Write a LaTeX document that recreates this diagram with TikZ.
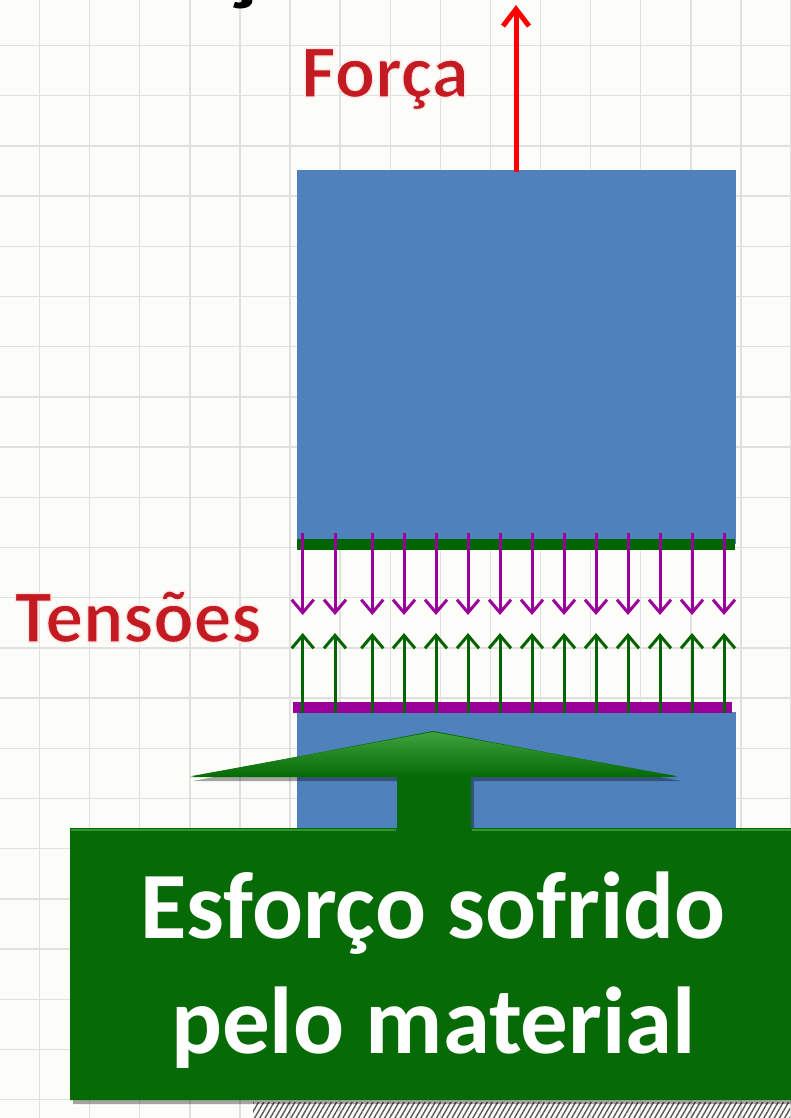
\documentclass[tikz,border=0pt]{standalone}
\usepackage{fontspec}
\setmainfont{Carlito}
\usetikzlibrary{arrows.meta,patterns.meta}
\definecolor{bg}{RGB}{252,253,248}
\definecolor{gridc}{RGB}{224,224,220}
\definecolor{blockblue}{RGB}{79,129,189}
\definecolor{bargreen}{RGB}{0,100,0}
\definecolor{barpurple}{RGB}{153,0,153}
\definecolor{forcered}{RGB}{255,0,0}
\definecolor{wordred}{RGB}{196,26,34}
\definecolor{calloutgreen}{RGB}{6,106,6}
\definecolor{calloutlight}{RGB}{62,162,62}
\newcommand{\outlinedtext}[1]{\special{pdf:literal direct 2 Tr 1.4 w 1 0.9 0.9 RG}#1\special{pdf:literal direct 0 Tr}}
\tikzset{
  gridline/.style={gridc, line width=1.4pt},
  block/.style={fill=blockblue, draw=none},
  stressbar/.style={line width=11pt},
  downarrow/.style={barpurple, line width=3pt, -{Straight Barb[length=13pt,width=22pt]}},
  uparrow/.style={bargreen, line width=3pt, -{Straight Barb[length=13pt,width=22pt]}},
  forcearrow/.style={forcered, line width=5pt, -{Straight Barb[length=17pt,width=26pt]}},
  wordart/.style={font=\fontsize{75}{80}\selectfont\bfseries, text=wordred, anchor=base, inner sep=0pt},
  calloutfont/.style={font=\fontsize{95}{110}\selectfont\bfseries, text=white, anchor=base, inner sep=0pt},
}
\begin{document}
\begin{tikzpicture}[x=1pt,y=-1pt]
  % background and grid
  \fill[bg] (0,0) rectangle (790,1118);
  \useasboundingbox (0,0) rectangle (790,1118);
  \foreach \k in {0,...,15} \draw[gridline] (39.5+50.1*\k,0) -- (39.5+50.1*\k,1118);
  \foreach \k in {0,...,21} \draw[gridline] (0,45.5+50.2*\k) -- (790,45.5+50.2*\k);

  % fragment of the title cut off at the top
  \node[font=\fontsize{110}{110}\selectfont\bfseries, anchor=base, inner sep=0pt] (titlefrag) at (240,-9) {ç};

  % blocks
  \fill[block] (297,170) rectangle (736,544);
  \fill[block] (297,712) rectangle (736,850);

  % force
  \coordinate (forcebase) at (516,172);
  \coordinate (forcetip) at (516,5);
  \draw[forcearrow] (forcebase) -- (forcetip);
  \node[wordart] (forca) at (385,97) {\outlinedtext{Força}};

  % stress bars
  \draw[bargreen, stressbar] (297,544) -- (735,544);
  \draw[barpurple, stressbar] (293,707) -- (732,707);

  % stress arrows
  \foreach \x [count=\i] in {302.7,335,372.3,404,436,468,500,532,564,596,628,660,692,724} {
    \coordinate (ds\i) at (\x,533);
    \coordinate (de\i) at (\x,615);
    \draw[downarrow] (ds\i) -- (de\i);
    \coordinate (us\i) at (\x,713);
    \coordinate (ue\i) at (\x,633);
    \draw[uparrow] (us\i) -- (ue\i);
  }
  \node[wordart] (tensoes) at (138,642) {\outlinedtext{Tensões}};

  % shadow hatch below the callout
  \fill[pattern={Lines[angle=60,distance=4.5pt,line width=1.4pt]}, pattern color=black!65] (253,1102) rectangle (790,1118);

  % callout
  \fill[black, opacity=0.35] (73,1104) -- (73,832) -- (400,832) -- (400,781) -- (193,781) -- (436,735) -- (681,781) -- (474,781) -- (474,832) -- (800,832) -- (800,1104) -- cycle;
  \fill[calloutgreen] (70,1100) -- (70,828) -- (397,828) -- (397,777) -- (190,777) -- (433,731) -- (678,777) -- (471,777) -- (471,828) -- (800,828) -- (800,1100) -- cycle;
  \shade[top color=calloutlight, bottom color=calloutgreen] (192,776) -- (433,732) -- (676,776) -- cycle;
  \draw[calloutlight, line width=2pt, opacity=0.8] (71,830) -- (396,830);
  \draw[calloutlight, line width=2pt, opacity=0.8] (472,830) -- (800,830);
  \node[calloutfont] (callout1) at (433,938) {Esforço sofrido};
  \node[calloutfont] (callout2) at (433.5,1053) {pelo material};
\end{tikzpicture}
\end{document}
